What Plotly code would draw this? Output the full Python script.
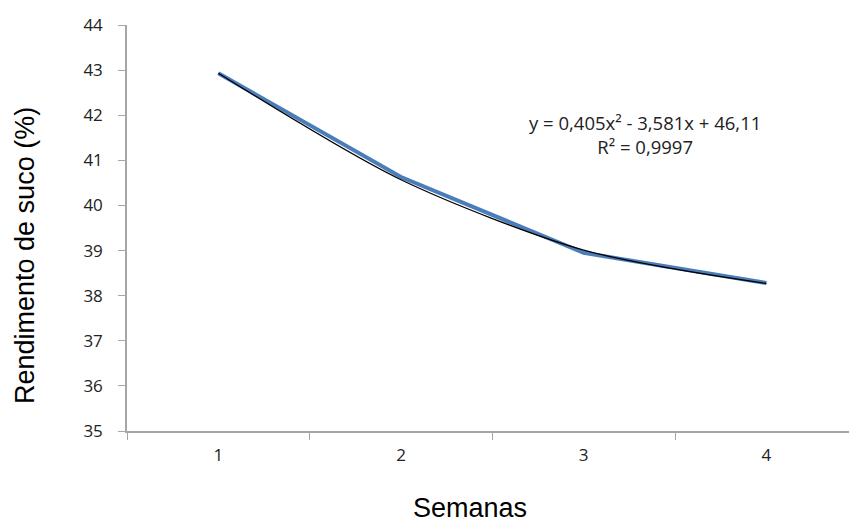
import plotly.graph_objects as go

weeks = [1, 2, 3, 4]
week_labels = ["1", "2", "3", "4"]
rendimento = [42.93, 40.63, 38.95, 38.28]
trend_fit = [42.93, 40.57, 39.01, 38.27]
y_ticks = [35, 36, 37, 38, 39, 40, 41, 42, 43, 44]

W, H = 849, 526
L, T, B = 127, 25, 95
plot_w = W - L
plot_h = H - T - B
cat_px = 182.67

fig = go.Figure()
fig.add_trace(go.Scatter(x=weeks, y=rendimento, mode="lines",
                         line=dict(color="#4a7ebb", width=4), showlegend=False))
fig.add_trace(go.Scatter(x=weeks, y=trend_fit, mode="lines",
                         line=dict(color="#000000", width=1.3, shape="spline", smoothing=0.8),
                         showlegend=False))

fig.update_layout(
    width=W, height=H,
    margin=dict(l=L, r=0, t=T, b=B, autoexpand=False),
    plot_bgcolor="white", paper_bgcolor="white",
    font=dict(family="Open Sans, Noto Sans, sans-serif", color="#222222", size=17),
    xaxis=dict(
        range=[0.5, 0.5 + plot_w / cat_px],
        tickmode="array", tickvals=weeks, ticktext=week_labels,
        ticks="", showgrid=False, zeroline=False,
        showline=True, linecolor="#a6a6a6", linewidth=2,
        tickfont=dict(size=17, color="#222222"),
        ticklabelstandoff=8,
        automargin=False,
        minor=dict(tickmode="array", tickvals=[0.5, 1.5, 2.5, 3.5], ticks="outside",
                   ticklen=7, tickcolor="#a6a6a6", tickwidth=1, showgrid=False),
    ),
    yaxis=dict(
        range=[35, 44], tickmode="array", tickvals=y_ticks,
        ticks="outside", ticklen=7, tickcolor="#a6a6a6", tickwidth=1,
        showgrid=False, zeroline=False,
        showline=True, linecolor="#a6a6a6", linewidth=1.5,
        tickfont=dict(size=17, color="#222222"),
        ticklabelstandoff=12,
        automargin=False,
    ),
    annotations=[
        dict(text="y = 0,405x² - 3,581x + 46,11<br>R² = 0,9997", xref="paper", yref="paper",
             x=(645 - L) / plot_w, y=1 - (134 - T) / plot_h, xanchor="center", yanchor="middle",
             showarrow=False, align="center",
             font=dict(family="Open Sans, Noto Sans, sans-serif", size=18.5, color="#222222")),
        dict(text="Rendimento de suco (%)", xref="paper", yref="paper",
             x=(25 - L) / plot_w, y=1 - (255 - T) / plot_h, xanchor="center", yanchor="middle",
             textangle=-90, showarrow=False,
             font=dict(family="Liberation Sans, Arial, sans-serif", size=27, color="#000000")),
        dict(text="Semanas", xref="paper", yref="paper",
             x=(470 - L) / plot_w, y=1 - (508 - T) / plot_h, xanchor="center", yanchor="middle",
             showarrow=False,
             font=dict(family="Liberation Sans, Arial, sans-serif", size=27, color="#000000")),
    ],
)

fig.write_html("out.html",
               config={"displayModeBar": False},
               post_script="document.body.style.margin='0';document.body.style.overflow='hidden';")
